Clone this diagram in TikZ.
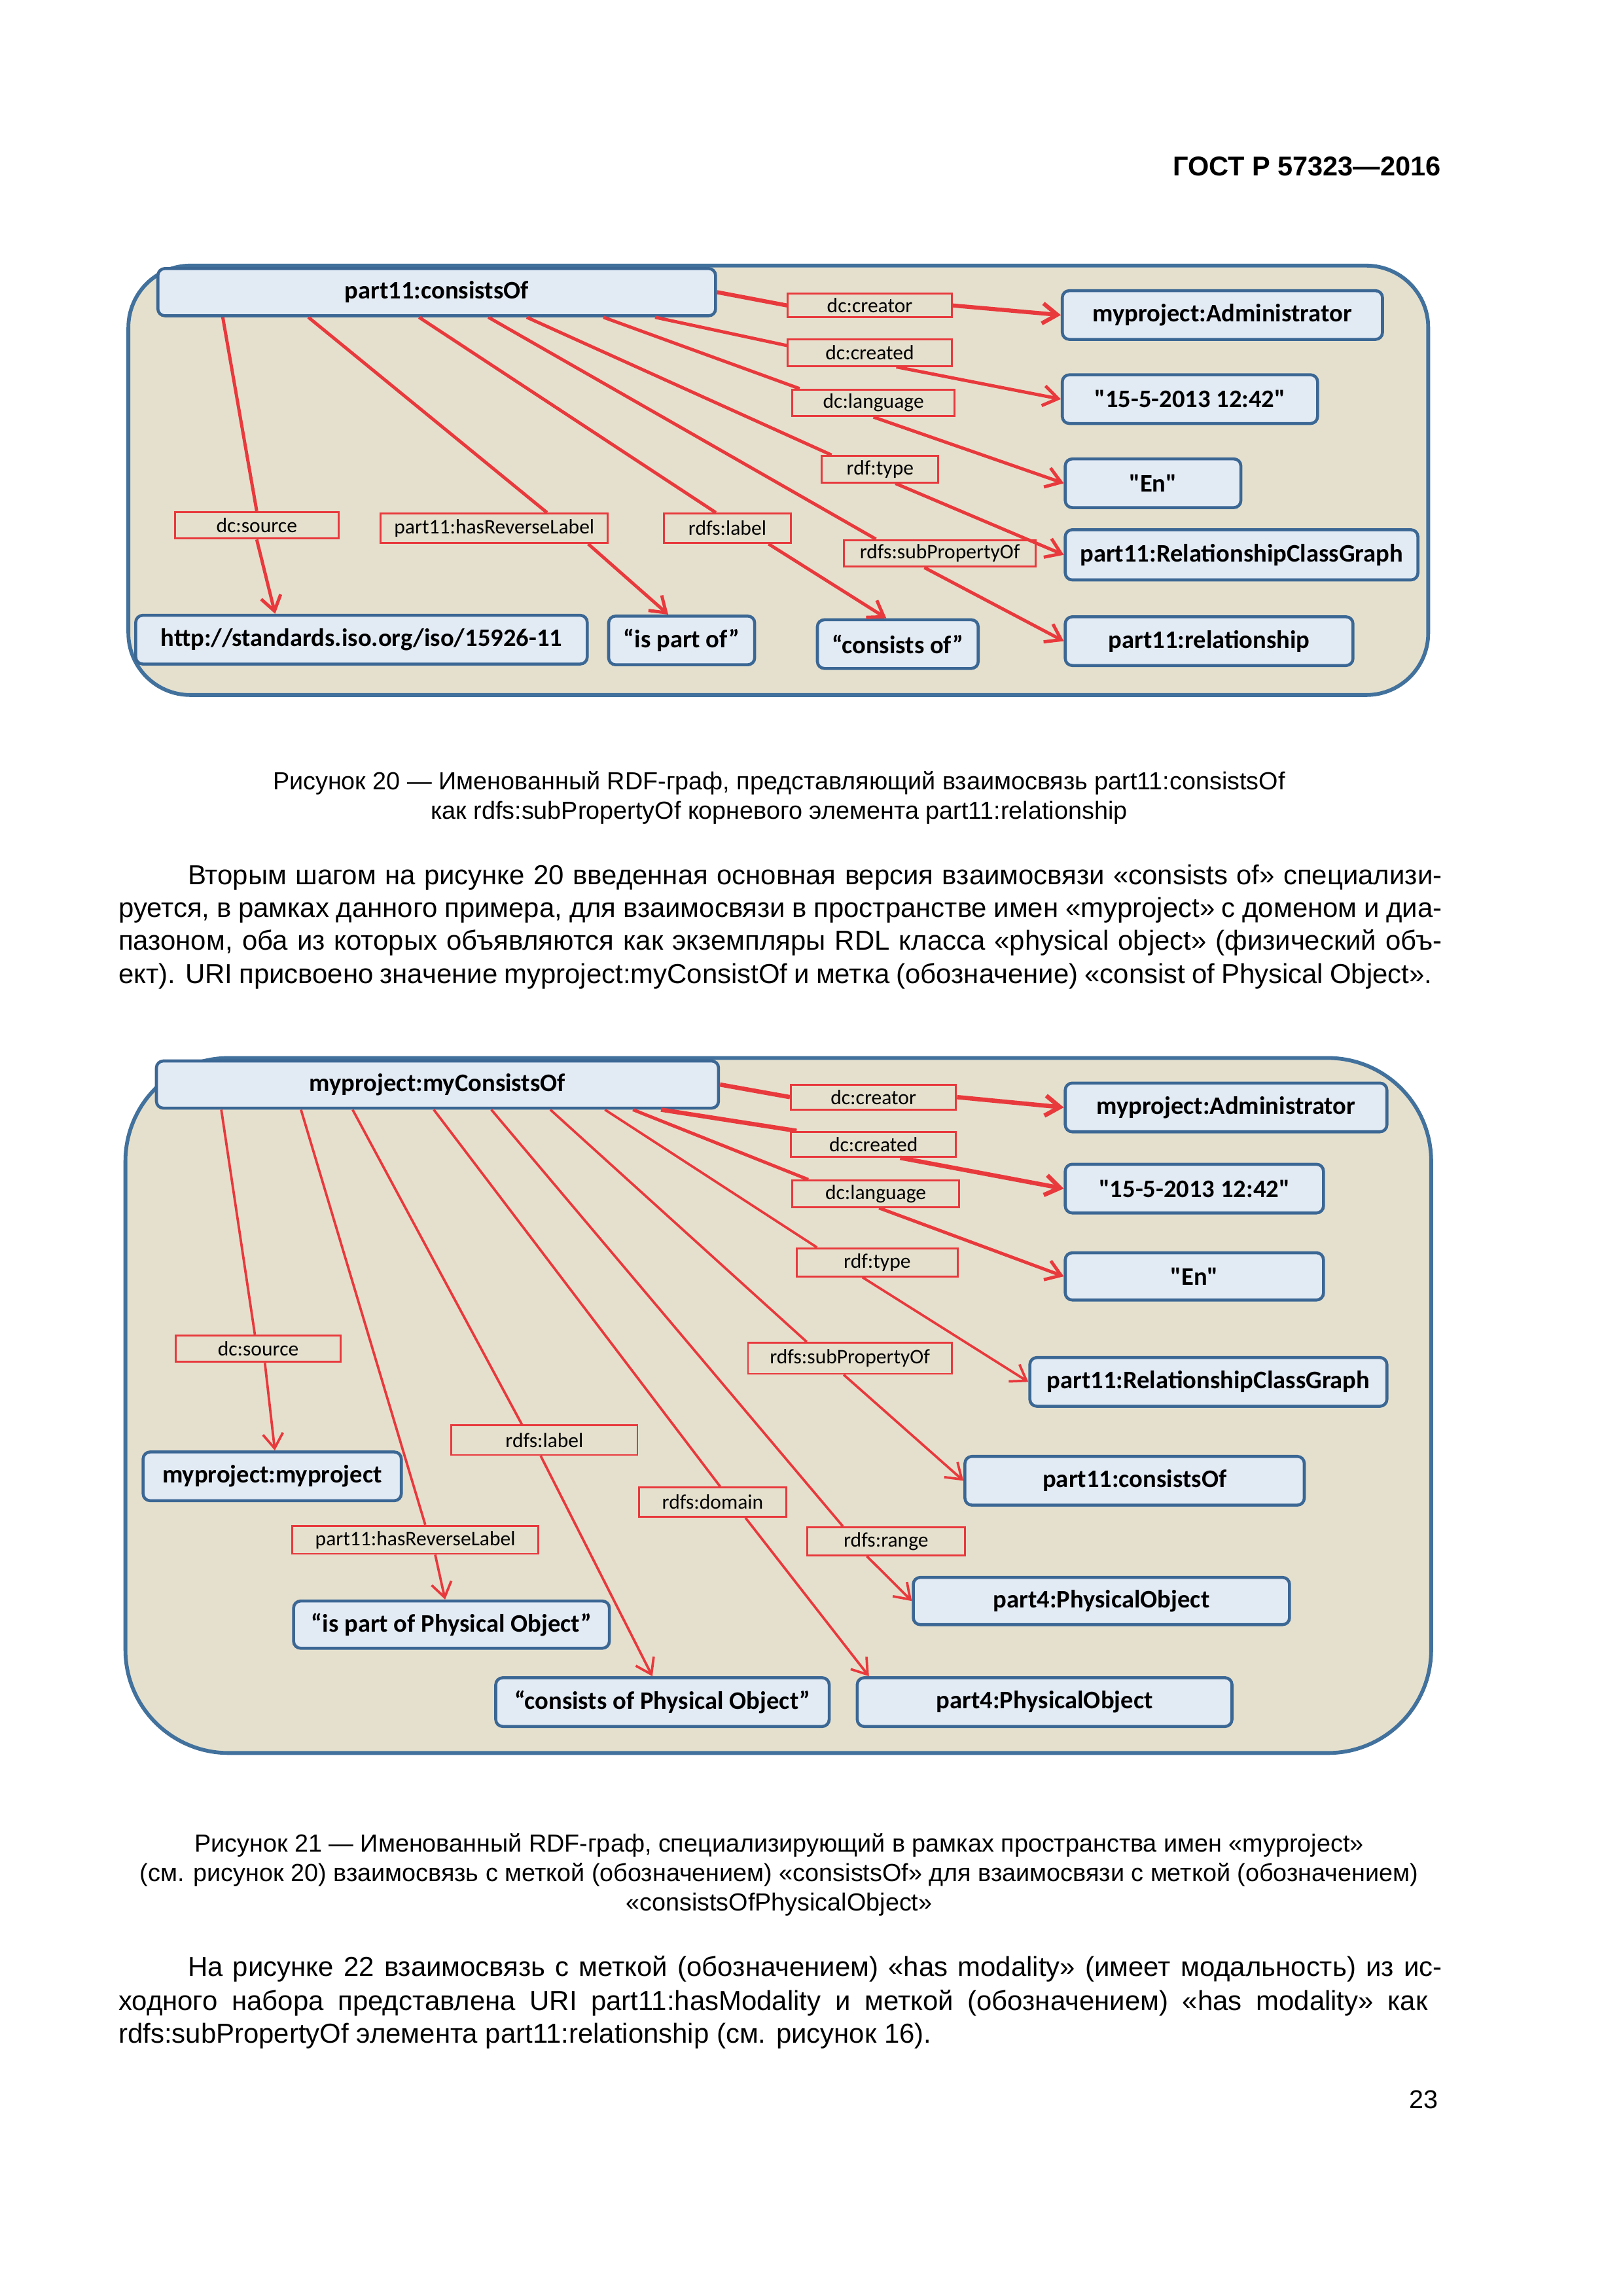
\documentclass[tikz,border=0pt]{standalone}
\usepackage{fontspec}
\setmainfont{Liberation Sans}
\newfontfamily\diagfont{Carlito}
\usetikzlibrary{arrows.meta,calc}
\newlength\dpx
\setlength\dpx{0.190909mm}
\definecolor{graphbg}{HTML}{E5E0CD}
\definecolor{framebl}{HTML}{41719C}
\definecolor{nodefill}{HTML}{E2EAF4}
\definecolor{nodebl}{HTML}{3B6794}
\definecolor{relred}{HTML}{E8393D}
\tikzset{
  res/.style={draw=nodebl, fill=nodefill, line width=1.1pt, rounded corners=0.9mm, inner sep=0pt,
    font=\diagfont\bfseries\fontsize{9.3}{11}\selectfont},
  prop/.style={draw=relred, fill=graphbg, line width=0.7pt, inner sep=0pt,
    font=\diagfont\fontsize{7.6}{9}\selectfont},
  graphframe/.style={draw=framebl, fill=graphbg, line width=1.4pt},
  edge/.style={draw=relred, line width=1.2pt},
  thinedge/.style={draw=relred, line width=0.9pt},
  tip/.style={-{Straight Barb[length=1.9mm,width=2.6mm]}},
  bodytext/.style={inner sep=0pt, font=\fontsize{10.1}{12}\selectfont},
  captext/.style={inner sep=0pt, font=\fontsize{9.1}{11}\selectfont},
}
\begin{document}
\begin{tikzpicture}[x=0.190909mm, y=-0.190909mm]
\useasboundingbox (0,0) rectangle (1100,1556);

% header
\node[anchor=base east, inner sep=0pt, font=\bfseries\fontsize{10}{12}\selectfont] (gost) at (977,119) {ГОСТ Р 57323—2016};

% Figure 20
\draw[graphframe, rounded corners=42\dpx] (87,180) rectangle (968,471);
\node[res, minimum width=378\dpx, minimum height=32\dpx] (cons1) at (296,198) {part11:consistsOf};
\node[res, minimum width=217\dpx, minimum height=33\dpx] (admin1) at (828.5,213.5) {myproject:Administrator};
\node[res, minimum width=173\dpx, minimum height=33\dpx] (date1) at (806.5,270.5) {"15-5-2013 12:42"};
\node[res, minimum width=119\dpx, minimum height=33\dpx] (lang1) at (781.5,327.5) {"En"};
\node[res, minimum width=239\dpx, minimum height=34\dpx] (rcg1) at (841.5,376) {part11:RelationshipClassGraph};
\node[res, minimum width=195\dpx, minimum height=33\dpx] (rel1) at (819.5,434.5) {part11:relationship};
\node[res, minimum width=306\dpx, minimum height=33\dpx] (uri1) at (245,433.5) {http://standards.iso.org/iso/15926-11};
\node[res, minimum width=99\dpx, minimum height=33\dpx] (ipo1) at (462,434) {“is part of”};
\node[res, minimum width=109\dpx, minimum height=33\dpx] (co1) at (608.5,436.5) {“consists of”};

\node[prop, minimum width=111\dpx, minimum height=16\dpx] (creator1) at (589.5,207) {dc:creator};
\node[prop, minimum width=111\dpx, minimum height=18\dpx] (created1) at (589.5,239) {dc:created};
\node[prop, minimum width=110\dpx, minimum height=18\dpx] (language1) at (592,273) {dc:language};
\node[prop, minimum width=79\dpx, minimum height=18\dpx] (type1) at (596.5,318) {rdf:type};
\node[prop, minimum width=130\dpx, minimum height=18\dpx] (subprop1) at (637,375) {rdfs:subPropertyOf};
\node[prop, minimum width=111\dpx, minimum height=18\dpx] (source1) at (174,356) {dc:source};
\node[prop, minimum width=154\dpx, minimum height=20\dpx] (revlabel1) at (335,358) {part11:hasReverseLabel};
\node[prop, minimum width=86\dpx, minimum height=20\dpx] (label1) at (493,358) {rdfs:label};

\draw[edge, line width=1.5pt] (cons1.east) -- (creator1.west);
\draw[edge, tip, line width=1.5pt] (creator1.east) -- (admin1.west);
\draw[edge] ([xshift=338\dpx]cons1.south west) -- ($(created1.north west)!.25!(created1.south west)$);
\draw[edge, tip] ($(created1.south west)!.66!(created1.south east)$) -- (date1.west);
\draw[edge] ([xshift=303\dpx]cons1.south west) -- ($(language1.north west)!.05!(language1.north east)$);
\draw[edge, tip] (language1.south) -- (lang1.west);
\draw[edge] ([xshift=251\dpx]cons1.south west) -- ($(type1.north west)!.09!(type1.north east)$);
\draw[edge, tip] ($(type1.south west)!.63!(type1.south east)$) -- (rcg1.west);
\draw[edge] ([xshift=225\dpx]cons1.south west) -- ($(subprop1.north west)!.17!(subprop1.north east)$);
\draw[edge, tip] ($(subprop1.south west)!.42!(subprop1.south east)$) -- (rel1.west);
\draw[edge] ([xshift=178\dpx]cons1.south west) -- ($(label1.north west)!.41!(label1.north east)$);
\draw[edge, tip] ($(label1.south west)!.82!(label1.south east)$) -- ($(co1.north west)!.43!(co1.north east)$);
\draw[edge] ([xshift=103\dpx]cons1.south west) -- ($(revlabel1.north west)!.73!(revlabel1.north east)$);
\draw[edge, tip] ($(revlabel1.south west)!.91!(revlabel1.south east)$) -- ($(ipo1.north west)!.41!(ipo1.north east)$);
\draw[edge] ([xshift=45\dpx]cons1.south west) -- (source1.north);
\draw[edge, tip] (source1.south) -- ($(uri1.north west)!.31!(uri1.north east)$);

% caption 20
\foreach \n/\y/\txt in {
  1/535/{Рисунок 20 — Именованный RDF-граф, представляющий взаимосвязь part11:consistsOf},
  2/555/{как rdfs:subPropertyOf корневого элемента part11:relationship}
} {
  \node[captext, anchor=base] (cap20\n) at (528,\y) {\txt};
}

% paragraph
\foreach \n/\y/\txt in {
  1/599.5/{\hspace*{47\dpx}Вторым шагом на рисунке 20 введенная основная версия взаимосвязи «consists of» специализи-},
  2/621.5/{руется, в рамках данного примера, для взаимосвязи в пространстве имен «myproject» с доменом и диа-},
  3/644/{пазоном, оба из которых объявляются как экземпляры RDL класса «physical object» (физический объ-},
  4/666.5/{ект). URI присвоено значение myproject:myConsistOf и метка (обозначение) «consist of Physical Object».}
} {
  \node[bodytext, anchor=base west] (para\n) at (80,\y) {\makebox[897\dpx][s]{\txt}};
}

% Figure 21
\draw[graphframe, rounded corners=70\dpx] (85,717) rectangle (970,1188);
\node[res, minimum width=381\dpx, minimum height=32\dpx] (mycons2) at (296.5,735) {myproject:myConsistsOf};
\node[res, minimum width=218\dpx, minimum height=33\dpx] (admin2) at (831,750.5) {myproject:Administrator};
\node[res, minimum width=175\dpx, minimum height=33\dpx] (date2) at (809.5,805.5) {"15-5-2013 12:42"};
\node[res, minimum width=175\dpx, minimum height=32\dpx] (lang2) at (809.5,865) {"En"};
\node[res, minimum width=242\dpx, minimum height=33\dpx] (rcg2) at (819,936.5) {part11:RelationshipClassGraph};
\node[res, minimum width=230\dpx, minimum height=33\dpx] (cons2) at (769,1003.5) {part11:consistsOf};
\node[res, minimum width=175\dpx, minimum height=33\dpx] (mypr2) at (184.5,1000.5) {myproject:myproject};
\node[res, minimum width=255\dpx, minimum height=32\dpx] (phys2a) at (746.5,1085) {part4:PhysicalObject};
\node[res, minimum width=214\dpx, minimum height=32\dpx] (ipo2) at (306,1101) {“is part of Physical Object”};
\node[res, minimum width=226\dpx, minimum height=33\dpx] (co2) at (449,1153.5) {“consists of Physical Object”};
\node[res, minimum width=254\dpx, minimum height=33\dpx] (phys2b) at (708,1153.5) {part4:PhysicalObject};

\node[prop, minimum width=112\dpx, minimum height=17\dpx] (creator2) at (592,743.5) {dc:creator};
\node[prop, minimum width=112\dpx, minimum height=17\dpx] (created2) at (592,775.5) {dc:created};
\node[prop, minimum width=113\dpx, minimum height=18\dpx] (language2) at (593.5,809) {dc:language};
\node[prop, minimum width=109\dpx, minimum height=19\dpx] (type2) at (594.5,855.5) {rdf:type};
\node[prop, minimum width=112\dpx, minimum height=18\dpx] (source2) at (175,914) {dc:source};
\node[prop, minimum width=138\dpx, minimum height=21\dpx] (subprop2) at (576,920.5) {rdfs:subPropertyOf};
\node[prop, minimum width=126\dpx, minimum height=20\dpx] (label2) at (369,976) {rdfs:label};
\node[prop, minimum width=100\dpx, minimum height=20\dpx] (domain2) at (483,1018) {rdfs:domain};
\node[prop, minimum width=167\dpx, minimum height=19\dpx] (revlabel2) at (281.5,1043.5) {part11:hasReverseLabel};
\node[prop, minimum width=107\dpx, minimum height=19\dpx] (range2) at (600.5,1044.5) {rdfs:range};

\draw[edge, line width=1.6pt] (mycons2.east) -- (creator2.west);
\draw[edge, tip, line width=1.6pt] (creator2.east) -- (admin2.west);
\draw[edge, line width=1.6pt] ([xshift=343\dpx]mycons2.south west) -- ($(created2.north west)!.04!(created2.north east)$);
\draw[edge, tip, line width=1.6pt] ($(created2.south west)!.66!(created2.south east)$) -- (date2.west);
\draw[edge] ([xshift=324\dpx]mycons2.south west) -- ($(language2.north west)!.1!(language2.north east)$);
\draw[edge, tip] ($(language2.south west)!.52!(language2.south east)$) -- (lang2.west);
\draw[thinedge] ([xshift=305\dpx]mycons2.south west) -- ($(type2.north west)!.13!(type2.north east)$);
\draw[thinedge, tip] ($(type2.south west)!.41!(type2.south east)$) -- (rcg2.west);
\draw[thinedge] ([xshift=268\dpx]mycons2.south west) -- ($(subprop2.north west)!.29!(subprop2.north east)$);
\draw[thinedge, tip] ($(subprop2.south west)!.47!(subprop2.south east)$) -- (cons2.west);
\draw[thinedge] ([xshift=228\dpx]mycons2.south west) -- ($(range2.north west)!.23!(range2.north east)$);
\draw[thinedge, tip] ($(range2.south west)!.38!(range2.south east)$) -- (phys2a.west);
\draw[thinedge] ([xshift=189\dpx]mycons2.south west) -- ($(domain2.north west)!.55!(domain2.north east)$);
\draw[thinedge, tip] ($(domain2.south west)!.72!(domain2.south east)$) -- ($(phys2b.north west)!.035!(phys2b.north east)$);
\draw[thinedge] ([xshift=134\dpx]mycons2.south west) -- ($(label2.north west)!.38!(label2.north east)$);
\draw[thinedge, tip] ($(label2.south west)!.48!(label2.south east)$) -- ($(co2.north west)!.47!(co2.north east)$);
\draw[thinedge] ([xshift=99\dpx]mycons2.south west) -- ($(revlabel2.north west)!.54!(revlabel2.north east)$);
\draw[thinedge, tip] ($(revlabel2.south west)!.58!(revlabel2.south east)$) -- ($(ipo2.north west)!.48!(ipo2.north east)$);
\draw[thinedge] ([xshift=45\dpx]mycons2.south west) -- ($(source2.north west)!.48!(source2.north east)$);
\draw[thinedge, tip] ($(source2.south west)!.54!(source2.south east)$) -- ($(mypr2.north west)!.51!(mypr2.north east)$);

% caption 21
\foreach \n/\y/\txt in {
  1/1255/{Рисунок 21 — Именованный RDF-граф, специализирующий в рамках пространства имен «myproject»},
  2/1275/{(см. рисунок 20) взаимосвязь с меткой (обозначением) «consistsOf» для взаимосвязи с меткой (обозначением)},
  3/1295/{«consistsOfPhysicalObject»}
} {
  \node[captext, anchor=base] (cap21\n) at (528,\y) {\txt};
}

% paragraph
\foreach \n/\y/\txt in {
  1/1339.5/{\hspace*{47\dpx}На рисунке 22 взаимосвязь с меткой (обозначением) «has modality» (имеет модальность) из ис-},
  2/1362.5/{ходного набора представлена URI part11:hasModality и меткой (обозначением) «has modality» как}
} {
  \node[bodytext, anchor=base west] (next\n) at (80,\y) {\makebox[897\dpx][s]{\txt}};
}
\node[bodytext, anchor=base west] (next3) at (80,1384.5) {rdfs:subPropertyOf элемента part11:relationship (см. рисунок 16).};

\node[anchor=base east, inner sep=0pt, font=\fontsize{9.5}{11}\selectfont] (pageno) at (975,1429) {23};
\end{tikzpicture}
\end{document}
